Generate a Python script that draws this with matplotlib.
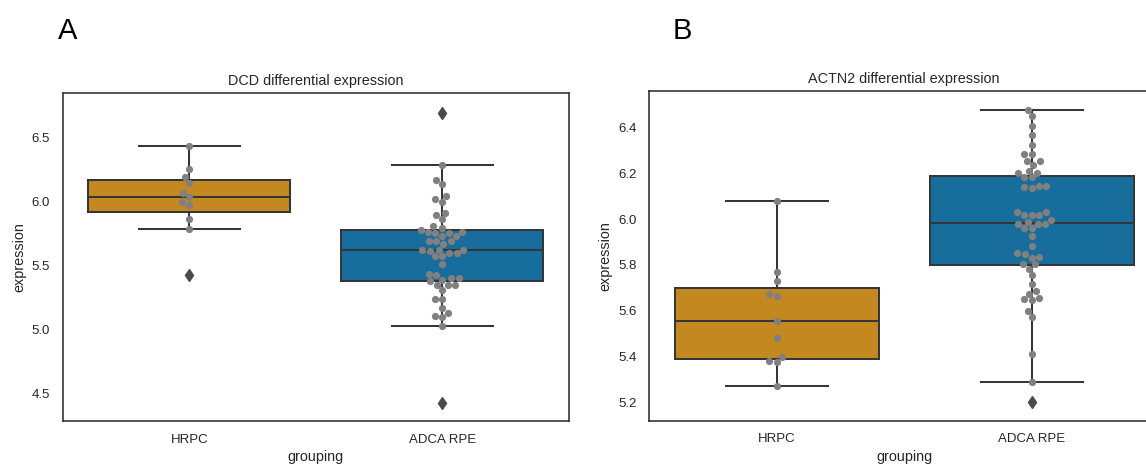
import numpy as np
import matplotlib
matplotlib.use("Agg")
import matplotlib.pyplot as plt

plt.rcParams['font.family'] = ['Liberation Sans', 'DejaVu Sans']

# ---------------- data ----------------
categories = ["HRPC", "ADCA RPE"]

dcd_hrpc = [6.432, 6.252, 6.190, 6.143, 6.068, 6.034, 5.995, 5.969, 5.862, 5.784, 5.422]
dcd_adca = [6.693, 6.286, 6.169, 6.138, 6.041, 6.020, 5.994, 5.911, 5.895, 5.859,
            5.807, 5.794, 5.776, 5.763, 5.763, 5.755, 5.755, 5.729, 5.729,
            5.687, 5.687, 5.687, 5.669, 5.622, 5.622, 5.622, 5.612, 5.593, 5.593,
            5.570, 5.570, 5.513, 5.435, 5.422, 5.398, 5.398, 5.388, 5.375,
            5.349, 5.349, 5.349, 5.310, 5.234, 5.234, 5.169, 5.130, 5.106, 5.096,
            5.023, 4.427]

actn2_hrpc = [6.079, 5.770, 5.728, 5.671, 5.664, 5.556, 5.481, 5.399, 5.380, 5.377, 5.271]
actn2_adca = [6.478, 6.451, 6.408, 6.366, 6.323, 6.282, 6.282, 6.253, 6.253, 6.235,
              6.211, 6.203, 6.203, 6.182, 6.182, 6.145, 6.145, 6.138, 6.134,
              6.033, 6.033, 6.017, 6.017, 6.017, 5.998, 5.987, 5.978, 5.978, 5.978,
              5.959, 5.959, 5.926, 5.882,
              5.850, 5.847, 5.835, 5.832, 5.806, 5.803, 5.784, 5.755, 5.716, 5.687,
              5.675, 5.656, 5.649, 5.645, 5.598, 5.571, 5.409, 5.290, 5.203]

panels = [
    dict(letter="A", title="DCD differential expression", groups=[dcd_hrpc, dcd_adca],
         ylim=(4.284, 6.846), yticks=[4.5, 5.0, 5.5, 6.0, 6.5]),
    dict(letter="B", title="ACTN2 differential expression", groups=[actn2_hrpc, actn2_adca],
         ylim=(5.120, 6.559), yticks=[5.2, 5.4, 5.6, 5.8, 6.0, 6.2, 6.4]),
]

box_colors = ["#c38820", "#176d9c"]
edge_gray = "#363636"
flier_gray = "#4a4a4a"
text_col = "#262626"
W, H = 1146, 465
DPI = 100
DOT_S = 27

fig = plt.figure(figsize=(W / DPI, H / DPI), dpi=DPI)

# axes rectangles in pixels (left, top, right, bottom)
rects = [(62.7, 93.0, 568.7, 421.0), (649.0, 91.0, 1159.0, 420.7)]
letter_pos = [(58.3, 39.0), (673.0, 39.0)]


def beeswarm(ax, xcenter, values, s, lw=0.0):
    dpi = ax.figure.dpi
    r = (np.sqrt(s) + lw) / 2 * dpi / 72
    vals = np.asarray(values, float)
    pts = ax.transData.transform(np.column_stack([np.full(len(vals), xcenter), vals]))
    order = np.argsort(pts[:, 1], kind="mergesort")
    xyr = np.column_stack([pts[order], np.full(len(vals), r)])
    midline = xyr[0, 0]
    swarm = [xyr[0]]
    for p in xyr[1:]:
        x_i, y_i, r_i = p
        neighbors = []
        for q in reversed(swarm):
            if (y_i - q[1]) < (r_i + q[2]):
                neighbors.append(q)
            else:
                break
        cands = [p]
        left_first = True
        for q in neighbors:
            dy = y_i - q[1]
            dx = np.sqrt(max((r_i + q[2]) ** 2 - dy ** 2, 0)) * 1.05
            cl = np.array([q[0] - dx, y_i, r_i])
            cr = np.array([q[0] + dx, y_i, r_i])
            cands.extend([cl, cr] if left_first else [cr, cl])
            left_first = not left_first
        cands = np.array(cands)
        offs = np.abs(cands[:, 0] - midline)
        cands = cands[np.argsort(offs, kind="stable")]
        chosen = cands[0]
        if neighbors:
            nb = np.array(neighbors)
            for c in cands:
                d2 = (nb[:, 0] - c[0]) ** 2 + (nb[:, 1] - c[1]) ** 2
                if np.all(d2 >= (nb[:, 2] + c[2]) ** 2):
                    chosen = c
                    break
        swarm.append(chosen)
    swarm = np.array(swarm)
    return ax.transData.inverted().transform(swarm[:, :2])


for panel, (l, t, r, b), (lx, ly) in zip(panels, rects, letter_pos):
    ax = fig.add_axes([l / W, 1 - b / H, (r - l) / W, (b - t) / H])
    ax.set_xlim(-0.5, 1.5)
    ax.set_ylim(*panel["ylim"])
    bp = ax.boxplot(panel["groups"], positions=[0, 1], widths=0.8, patch_artist=True,
                    whis=1.5, manage_ticks=False,
                    boxprops=dict(edgecolor=edge_gray, linewidth=1.45),
                    medianprops=dict(color=edge_gray, linewidth=1.45),
                    whiskerprops=dict(color=edge_gray, linewidth=1.45),
                    capprops=dict(color=edge_gray, linewidth=1.45),
                    flierprops=dict(marker="d", markerfacecolor=flier_gray,
                                    markeredgecolor=flier_gray, markersize=6.5,
                                    linestyle="none"))
    for patch, col in zip(bp["boxes"], box_colors):
        patch.set_facecolor(col)
    for fl in bp["fliers"]:
        fl.set_zorder(3)

    for i, (vals, fl) in enumerate(zip(panel["groups"], bp["fliers"])):
        outl = set(np.round(fl.get_ydata(), 6))
        inner = [v for v in vals if round(v, 6) not in outl]
        xy = beeswarm(ax, i, inner, s=DOT_S)
        ax.scatter(xy[:, 0], xy[:, 1], s=DOT_S, color="#808080", linewidths=0, zorder=4)

    ax.set_xticks([0, 1])
    ax.set_xticklabels(categories)
    ax.set_yticks(panel["yticks"])
    ax.set_yticklabels([f"{v:.1f}" for v in panel["yticks"]])
    ax.tick_params(axis="both", length=0, pad=9.1, labelsize=9.5, labelcolor=text_col)
    ax.set_xlabel("grouping", fontsize=10.4, color=text_col, labelpad=3)
    ax.set_ylabel("expression", fontsize=10.4, color=text_col, labelpad=4)
    ax.set_title(panel["title"], fontsize=10.4, color=text_col, pad=6)
    for sp in ax.spines.values():
        sp.set_color(text_col)
        sp.set_linewidth(1.1)
    fig.text(lx / W, 1 - ly / H, panel["letter"], fontsize=21, color="black",
             ha="left", va="baseline")

fig.savefig("out.png", dpi=DPI, facecolor="white")
